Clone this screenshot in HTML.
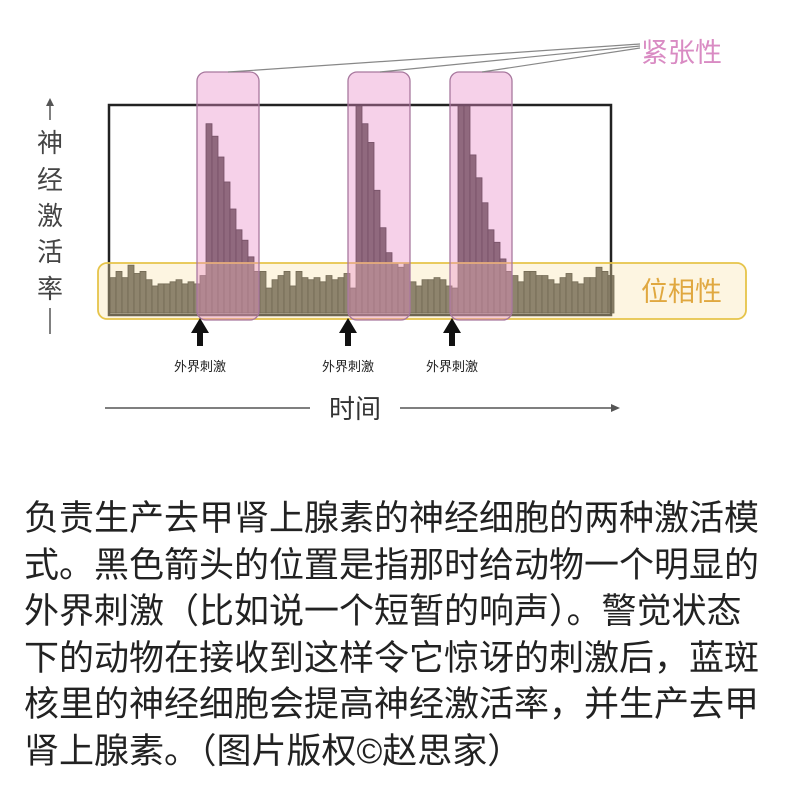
<!DOCTYPE html>
<html><head><meta charset="utf-8">
<style>
body{margin:0;background:#fff;width:792px;height:800px;overflow:hidden;font-family:"Liberation Sans","Noto Sans CJK SC",sans-serif;}
#cap{position:absolute;left:24px;top:496px;width:748px;font-size:35px;line-height:46.5px;color:#222;letter-spacing:0;}
</style></head><body>
<svg id="chart" width="792" height="480" style="position:absolute;left:0;top:0" font-family="Liberation Sans, Noto Sans CJK SC, sans-serif">
<g id="bars"></g>
<rect x="109" y="105" width="502" height="210" fill="none" stroke="#222" stroke-width="2.5"/>
<rect x="98" y="263" width="648" height="56" rx="9" fill="rgba(250,225,170,0.35)" stroke="#e6c44a" stroke-width="1.8"/>
<g id="tonic"></g>
<line x1="228" y1="72" x2="640" y2="44" stroke="#888" stroke-width="1.2"/>
<line x1="380" y1="72" x2="640" y2="46" stroke="#888" stroke-width="1.2"/>
<line x1="482" y1="72" x2="640" y2="48" stroke="#888" stroke-width="1.2"/>
<text x="641" y="62" font-size="27" fill="#d98bc3">紧张性</text>
<text x="641" y="301" font-size="27" fill="#e0a840">位相性</text>
<g font-size="26" fill="#444" text-anchor="middle">
<line x1="50" y1="104" x2="50" y2="120" stroke="#555" stroke-width="1.5"/>
<polygon points="46,106 54,106 50,98" fill="#555"/>
<text x="50" y="152">神</text><text x="50" y="189">经</text><text x="50" y="225">激</text><text x="50" y="261">活</text><text x="50" y="298">率</text>
<line x1="50" y1="308" x2="50" y2="334" stroke="#555" stroke-width="1.5"/>
</g>
<g id="stim" font-size="13" fill="#222" text-anchor="middle"></g>
<g>
<line x1="105" y1="408" x2="310" y2="408" stroke="#555" stroke-width="1.5"/>
<line x1="400" y1="408" x2="612" y2="408" stroke="#555" stroke-width="1.5"/>
<polygon points="611,404 611,412 620,408" fill="#555"/>
<text x="355" y="418" font-size="26" fill="#333" text-anchor="middle">时间</text>
</g>
</svg>
<div id="cap">负责生产去甲肾上腺素的神经细胞的两种激活模式。黑色箭头的位置是指那时给动物一个明显的外界刺激（比如说一个短暂的响声）。警觉状态下的动物在接收到这样令它惊讶的刺激后，蓝斑核里的神经细胞会提高神经激活率，并生产去甲肾上腺素。（图片版权©赵思家）</div>
<script>
const activity=[17,20,17,23,19,20,16,13,14,14,15,16,14,15,14,18,
91,85,75,63,50,40,35,27,20,20,
12,16,18,20,13,20,17,16,17,15,18,16,17,19,12,
100,91,82,59,41,29,24,22,
24,15,13,16,16,17,16,13,12,
100,100,76,65,53,40,34,26,20,18,
15,20,20,18,18,16,14,17,19,15,14,17,17,22,20,18];
const tonicStart=[197,348,450];
const stimX=[200,348,452];
const stimLabels=["外界刺激","外界刺激","外界刺激"];
const ns="http://www.w3.org/2000/svg";
const x0=110,bw=6,yBase=313,yTop=105;
function yS(v){return yBase-(yBase-yTop)*Math.min(v,100)/100;}
const gb=document.getElementById('bars');
activity.forEach((v,i)=>{const r=document.createElementNS(ns,'rect');


r.setAttribute('x',x0+i*bw);r.setAttribute('width',bw);r.setAttribute('y',yS(v));r.setAttribute('height',yBase-yS(v));
r.setAttribute('fill','#55524d');r.setAttribute('stroke','#2a2826');r.setAttribute('stroke-width','0.8');gb.appendChild(r);});
const gt=document.getElementById('tonic');
tonicStart.forEach(x=>{const r=document.createElementNS(ns,'rect');


r.setAttribute('x',x);r.setAttribute('y',72);r.setAttribute('width',62);r.setAttribute('height',248);r.setAttribute('rx',9);
r.setAttribute('fill','rgba(232,140,200,0.4)');r.setAttribute('stroke','#a8789e');r.setAttribute('stroke-width','1.3');gt.appendChild(r);});
const gs=document.getElementById('stim');
stimX.forEach((x,i)=>{const p=document.createElementNS(ns,'polygon');


p.setAttribute('points',`${x},318 ${x-9},333 ${x-3},333 ${x-3},346 ${x+3},346 ${x+3},333 ${x+9},333`);p.setAttribute('fill','#111');gs.appendChild(p);
const t=document.createElementNS(ns,'text');


t.setAttribute('x',x);t.setAttribute('y',371);t.textContent=stimLabels[i];gs.appendChild(t);});
</script>
</body></html>
